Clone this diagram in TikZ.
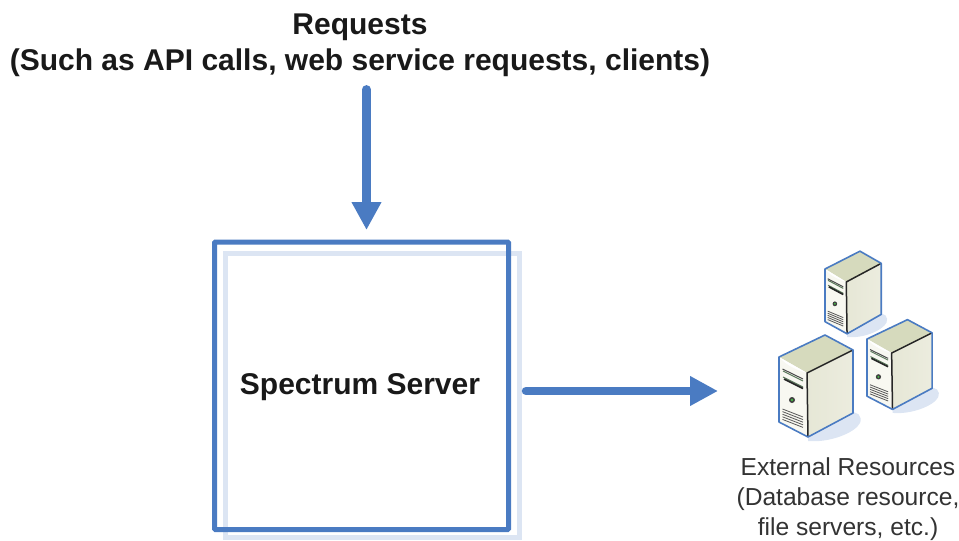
\documentclass[tikz,border=0pt]{standalone}
\usepackage{fontspec}
\setmainfont{Liberation Sans}
\usetikzlibrary{arrows.meta}
\definecolor{flowblue}{HTML}{4A7BC2}
\definecolor{paleblue}{HTML}{DCE5F3}
\definecolor{srvfront}{HTML}{F0F0E4}
\definecolor{srvside}{HTML}{E6E7D6}
\definecolor{srvtop}{HTML}{D6DABD}
\tikzset{
  x=1pt,y=-1pt,
  flowarrow/.style={draw=flowblue,line width=8.5pt,-{Triangle[length=28pt,width=28pt]}},
  title/.style={font=\fontsize{30}{36.5}\selectfont\bfseries,align=center,text=black!90,inner sep=0pt},
  caption/.style={font=\fontsize{24.6}{30}\selectfont,align=center,text=black!80,inner sep=0pt},
  mainbox/.style={draw=flowblue,line width=5pt,rounded corners=1pt,minimum width=294pt,minimum height=287.5pt,inner sep=0pt},
  srvunit/.pic={
    \fill[paleblue] (29,80) -- (70,57) .. controls (78,52) and (84,60) .. (81,66) .. controls (76,76) and (50,86) .. (29,84) -- cycle;
    \fill[srvtop] (0,0) -- (46,-22) -- (74,-7) -- (28,16) -- cycle;
    \fill[white!50!srvfront] (0,0) -- (28,16) -- (29,80) -- (0,65) -- cycle;
    \fill[white] (0,0) .. controls (8,9) and (18,13) .. (28,16) -- (0,0) -- cycle;
    \shade[left color=srvside,right color=srvfront!60!srvside] (28,16) -- (74,-7) -- (74,56) -- (29,80) -- cycle;
    \draw[black!60!green!30!gray,line width=1pt] (4,14) -- (24,24) (4,20) -- (24,30);
    \draw[black!85,line width=1.6pt] (5,22) -- (24,31.5);
    \draw[black!70,line width=1pt] (3.5,12) -- (24,22);
    \fill[black!75] (13,43) circle (3);
    \fill[green!45!gray] (13,43) circle (1.3);
    \foreach \k in {0,2.6,5.2,7.8,10.4}{\draw[black!65,line width=.8pt] (3.5,52+\k) -- (24,60+\k);}
    \draw[black!85,line width=1.5pt] (74,-7) -- (28,16) -- (29,80);
    \draw[flowblue,line width=1.6pt,line join=round] (0,0) -- (46,-22) -- (74,-7) -- (74,56) -- (29,80) -- (0,65) -- cycle;
  }
}
\begin{document}
\begin{tikzpicture}
\useasboundingbox (0,0) rectangle (959,541);
\draw[paleblue,line width=5pt] (225.5,253.5) rectangle (519.5,537.5);
\node[title] (req) at (360,45.5) {Requests\\(Such as API calls, web service requests, clients)};
\node[mainbox] (srv) at (361.5,385.75) {};
\node[title] (srvlabel) at (360,387) {Spectrum Server};
\pic (small) at (825,269) [xscale=.76,yscale=.81] {srvunit};
\pic (mid) at (867,339) [scale=.88] {srvunit};
\pic (big) at (779,357) {srvunit};
\node[caption] (ext) at (848,499.5) {External Resources\\(Database resource,\\file servers, etc.)};
\coordinate (extin) at (718,391);
\draw[flowarrow,line cap=round] ([xshift=6.5pt,yshift=-12pt]req.south) -- ([xshift=5pt,yshift=9.5pt]srv.north);
\draw[flowarrow,line cap=round] ([xshift=15pt,yshift=-5.25pt]srv.east) -- (extin);
\end{tikzpicture}
\end{document}
